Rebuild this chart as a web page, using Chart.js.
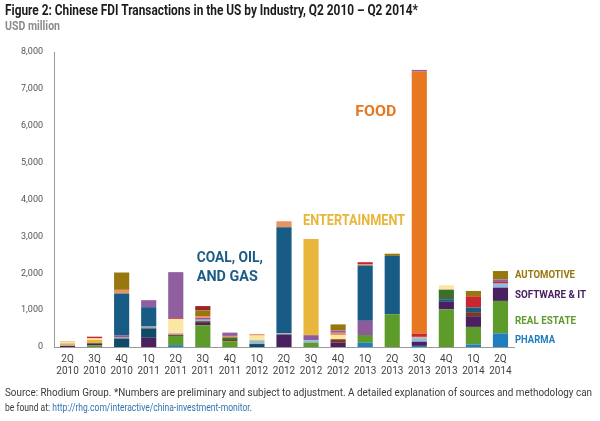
<!DOCTYPE html>
<html>
<head>
<meta charset="utf-8">
<script src="https://cdn.jsdelivr.net/npm/chart.js@4/dist/chart.umd.min.js"></script>
<style>
  html, body { margin:0; padding:0; background:#fff; }
  body { width:600px; height:421px; position:relative; overflow:hidden; font-family:"Roboto",sans-serif; }
  #wrap { position:absolute; left:0; top:0; width:600px; height:421px; }
  .t { position:absolute; white-space:nowrap; display:inline-block; transform-origin:0 50%; }
  #title { left:5px; top:2px; font-size:14.5px; line-height:18px; font-weight:bold; color:#1c1c1c; }
  #sub { left:5px; top:19px; font-size:12px; line-height:14px; font-weight:bold; color:#8c8c8c; }
  #foot1 { left:5px; top:386px; font-size:10.5px; line-height:14px; color:#3a3a3a; }
  #foot2 { left:5px; top:401px; font-size:10.5px; line-height:14px; color:#3a3a3a; }
  #foot2 span { color:#2f74b5; }
</style>
</head>
<body>
<div id="wrap"><canvas id="c" width="600" height="421"></canvas></div>
<div class="t" id="title">Figure 2: Chinese FDI Transactions in the US by Industry, Q2 2010 – Q2 2014*</div>
<div class="t" id="sub">USD million</div>
<div class="t" id="foot1">Source: Rhodium Group. *Numbers are preliminary and subject to adjustment. A detailed explanation of sources and methodology can</div>
<div class="t" id="foot2">be found at: <span>http://rhg.com/interactive/china-investment-monitor</span>.</div>
<script>
// Categories (quarter, year)
const quarters = ["2Q","3Q","4Q","1Q","2Q","3Q","4Q","1Q","2Q","3Q","4Q","1Q","2Q","3Q","4Q","1Q","2Q"];
const years    = ["2010","2010","2010","2011","2011","2011","2011","2012","2012","2012","2012","2013","2013","2013","2013","2014","2014"];

// Series values, USD million (stacked bottom -> top)
const pharma        = [0,0,0,0,50,0,0,0,0,0,0,115,0,30,0,70,370];
const realEstate    = [0,50,0,0,250,590,150,0,0,120,0,210,890,0,1020,475,880];
const softwareIT    = [30,50,0,250,0,60,0,0,340,0,116,0,0,115,205,290,360];
const electronics   = [0,0,230,255,0,0,0,80,0,0,0,0,0,0,0,0,0];
const basicMaterials= [0,0,0,0,30,50,40,0,0,0,94,0,0,0,0,110,0];
const transport     = [20,0,0,0,0,40,0,60,0,60,0,0,0,80,0,0,110];
const otherSectors  = [0,0,40,50,40,0,0,40,30,0,0,0,0,30,0,0,0];
const financial     = [0,0,50,0,0,50,0,0,0,140,0,385,0,0,0,0,0];
const coalOilGas    = [0,0,1130,525,0,0,0,0,2880,0,0,1500,1580,0,70,125,0];
const industrial    = [0,0,0,0,0,0,70,0,0,0,0,0,0,0,260,0,0];
const entertainment = [50,90,0,0,0,0,0,0,0,2610,0,0,0,0,0,0,0];
const consumer      = [30,45,0,0,390,0,0,130,0,0,108,0,0,0,120,0,0];
const textiles      = [20,0,100,0,0,50,40,40,160,0,68,40,0,20,0,0,0];
const energyEquip   = [0,45,0,0,20,0,0,0,0,0,0,50,0,90,0,305,45];
const food          = [0,0,0,0,0,0,0,0,0,0,0,0,0,7104,0,0,0];
const business      = [0,0,0,190,1250,0,90,0,0,0,63,0,0,45,0,0,65];
const automotive    = [0,0,470,0,0,150,0,0,0,0,164,0,60,0,0,145,230];
const aviation      = [0,0,0,0,0,120,0,0,0,0,0,0,0,0,0,0,0];

// Y-axis ticks
const yTicks = [0,1000,2000,3000,4000,5000,6000,7000,8000];

const series = [
  ["Health, pharma & biotech", pharma, "#1f7ebd"],
  ["Real estate & hospitality", realEstate, "#5d9b2a"],
  ["Software & IT", softwareIT, "#4a2060"],
  ["Electronics", electronics, "#0f4a66"],
  ["Basic materials", basicMaterials, "#7a3a22"],
  ["Transport", transport, "#8dbce0"],
  ["Other", otherSectors, "#a3a3a3"],
  ["Financial services", financial, "#8d5b9c"],
  ["Coal, oil & gas", coalOilGas, "#185b84"],
  ["Industrial machinery", industrial, "#3f6d2b"],
  ["Entertainment", entertainment, "#e8b63a"],
  ["Consumer products", consumer, "#fbe6a4"],
  ["Textiles", textiles, "#ea9361"],
  ["Energy equipment", energyEquip, "#c9272e"],
  ["Food", food, "#e87722"],
  ["Business services", business, "#8f5fa0"],
  ["Automotive", automotive, "#98770f"],
  ["Aviation", aviation, "#9b2525"]
];

// Fit HTML text lines to the reference widths (condensed face emulation)
function fit(id, w) {
  const el = document.getElementById(id);
  const cur = el.getBoundingClientRect().width;
  el.style.transform = 'scaleX(' + (w / cur) + ')';
}
fit('title', 413); fit('sub', 55); fit('foot1', 587); fit('foot2', 247);

const FONT = '"Roboto",sans-serif';

const labelsPlugin = {
  id: 'annot',
  afterDatasetsDraw(chart) {
    const {ctx} = chart;
    const x = chart.scales.x, y = chart.scales.y;
    const put = (txt, px, val, color, size, width, align) => {
      ctx.save();
      ctx.font = 'bold ' + size + 'px ' + FONT;
      ctx.fillStyle = color;
      ctx.textBaseline = 'middle';
      const m = ctx.measureText(txt).width;
      const s = width / m;
      const left = align === 'right' ? px - width : px;
      ctx.translate(left, y.getPixelForValue(val) + 1);
      ctx.scale(s, 1);
      ctx.textAlign = 'left';
      ctx.fillText(txt, 0, 0);
      ctx.restore();
    };
    put("FOOD", x.getPixelForValue(13) - 23, 6405, "#e87722", 15, 41, 'right');
    put("ENTERTAINMENT", x.getPixelForValue(9) - 8, 3440, "#e8b63a", 14, 102, 'left');
    put("COAL, OIL,", x.getPixelForValue(5) - 6, 2430, "#1a5c86", 15, 66, 'left');
    put("AND GAS", x.getPixelForValue(5) - 6, 1920, "#1a5c86", 15, 61, 'left');
    const lx = x.right + 1;
    put("AUTOMOTIVE", lx, 1973, "#98770f", 10, 60, 'left');
    put("SOFTWARE & IT", lx, 1432, "#4a2060", 10, 71, 'left');
    put("REAL ESTATE", lx, 730, "#5d9b2a", 10, 61, 'left');
    put("PHARMA", lx, 216, "#1f7ebd", 10, 40, 'left');
  }
};

new Chart(document.getElementById('c'), {
  type: 'bar',
  data: {
    labels: quarters.map((q, i) => [q, years[i]]),
    datasets: series.map(([name, vals, col]) => ({
      label: name, data: vals, backgroundColor: col,
      borderWidth: 0, barPercentage: 0.56, categoryPercentage: 1.0
    }))
  },
  options: {
    responsive: false,
    animation: false,
    layout: { padding: { left: 0, right: 86, top: 52, bottom: 0 } },
    plugins: { legend: { display: false }, tooltip: { enabled: false }, title: { display: false } },
    scales: {
      x: {
        stacked: true,
        grid: { display: false, drawTicks: false },
        border: { display: true, color: '#9a9a9a', width: 1 },
        ticks: { color: '#444', font: { family: FONT, size: 10, lineHeight: 1.2 }, padding: 6, maxRotation: 0, autoSkip: false },
        afterFit(s) { s.height = 74; }
      },
      y: {
        stacked: true,
        min: yTicks[0], max: yTicks[yTicks.length - 1],
        afterBuildTicks(s) { s.ticks = yTicks.map(v => ({ value: v })); },
        grid: { display: false, drawTicks: false },
        border: { display: true, color: '#9a9a9a', width: 1 },
        ticks: { color: '#555', font: { family: FONT, size: 9 }, padding: 11,
                 callback: v => v.toLocaleString('en-US') },
        afterFit(s) { s.width = 54; }
      }
    }
  },
  plugins: [labelsPlugin]
});
</script>
</body>
</html>
